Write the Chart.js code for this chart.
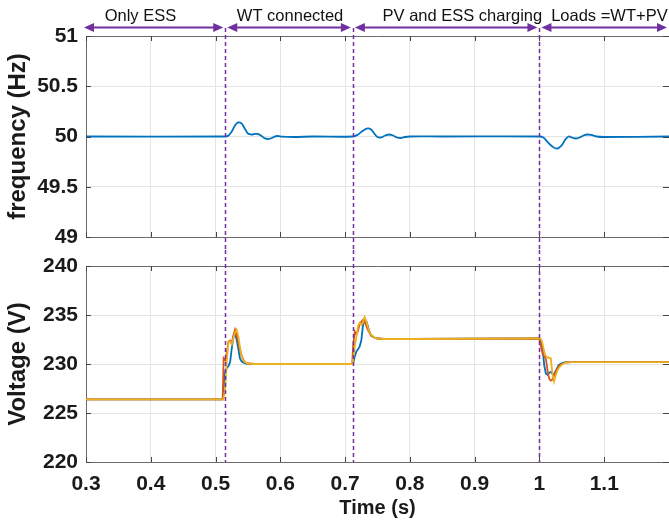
<!DOCTYPE html>
<html>
<head>
<meta charset="utf-8">
<script src="https://cdn.jsdelivr.net/npm/chart.js@4"></script>
<style>
  html, body { margin: 0; padding: 0; background: #fff; }
  #wrap { position: relative; width: 669px; height: 521px; overflow: hidden; }
  #freqChart { position: absolute; left: 0; top: 0; }
  #voltChart { position: absolute; left: 0; top: 250px; }
</style>
</head>
<body>
<div id="wrap">
  <canvas id="freqChart" width="669" height="250"></canvas>
  <canvas id="voltChart" width="669" height="271"></canvas>
</div>
<script>
// switching instants and stage names
const eventTimes = [0.515, 0.712, 1.0];
const stageLabels = ['Only ESS', 'WT connected', 'PV and ESS charging', 'Loads =WT+PV'];

// frequency (Hz)
const freqT = [0.3, 0.515, 0.52, 0.525, 0.53, 0.535, 0.54, 0.545, 0.55, 0.555, 0.56, 0.565, 0.57, 0.575, 0.58, 0.585, 0.59, 0.595, 0.6, 0.62, 0.65,
  0.712, 0.72, 0.728, 0.735, 0.74, 0.745, 0.75, 0.755, 0.762, 0.768, 0.774, 0.78, 0.786, 0.792, 0.8, 0.85,
  1.0, 1.006, 1.012, 1.02, 1.027, 1.034, 1.04, 1.045, 1.05, 1.056, 1.062, 1.068, 1.074, 1.08, 1.088, 1.1, 1.2];
const freqV = [50, 50, 50.01, 50.05, 50.11, 50.14, 50.13, 50.08, 50.03, 50.02, 50.025, 50.025, 50.01, 49.985, 49.975, 49.98, 49.995, 50.005, 50, 49.995, 50,
  50, 50.02, 50.06, 50.08, 50.07, 50.03, 49.995, 49.99, 50.01, 50.02, 50.01, 49.99, 49.985, 49.995, 50, 50,
  50, 49.99, 49.95, 49.9, 49.88, 49.91, 49.97, 50, 49.99, 49.98, 49.99, 50.01, 50.02, 50.015, 50, 49.995, 50];

// voltage (V), three phases on a shared time grid
const voltT = [0.3,
  0.511, 0.5125, 0.515, 0.5175, 0.52, 0.5225, 0.525, 0.5275, 0.53, 0.5325, 0.535, 0.5375, 0.54, 0.5425, 0.545, 0.55, 0.56,
  0.6,
  0.711, 0.7125, 0.715, 0.7175, 0.72, 0.7225, 0.725, 0.7275, 0.73, 0.7325, 0.735, 0.7375, 0.74, 0.745, 0.75, 0.76,
  0.8,
  0.999, 1.001, 1.003, 1.005, 1.0075, 1.01, 1.0125, 1.015, 1.0175, 1.02, 1.0225, 1.025, 1.0275, 1.03, 1.035, 1.04, 1.05,
  1.2];
const voltBlue = [226.4,
  226.4, 227.5, 229.3, 229.6, 229.8, 230.2, 231.6, 232.7, 233.2, 232.5, 231.6, 230.6, 230.3, 230.15, 230.1, 230.0, 230.0,
  230.0,
  230.0, 230.1, 230.8, 231.3, 231.5, 231.8, 232.4, 233.9, 234.5, 234.4, 233.9, 233.3, 232.9, 232.7, 232.6, 232.55,
  232.55,
  232.6, 232.5, 232.0, 231.4, 229.8, 229.0, 228.9, 229.1, 229.2, 229.0, 228.9, 229.3, 229.6, 229.9, 230.1, 230.2, 230.2,
  230.2];
const voltRed = [226.4,
  226.4, 230.6, 230.4, 231.2, 232.3, 232.4, 232.1, 232.9, 233.5, 233.0, 232.3, 231.5, 230.9, 230.5, 230.2, 230.05, 230.0,
  230.0,
  230.0, 232.0, 233.3, 233.0, 233.4, 234.1, 234.3, 234.5, 234.4, 233.9, 233.5, 233.2, 232.9, 232.7, 232.6, 232.55,
  232.55,
  232.6, 232.3, 231.6, 231.0, 230.8, 230.5, 229.3, 228.5, 228.3, 228.4, 228.8, 229.2, 229.5, 229.8, 230.0, 230.15, 230.2,
  230.2];
const voltOrange = [226.4,
  226.4, 226.5, 227.6, 230.5, 232.3, 232.3, 232.0, 232.6, 233.2, 233.5, 232.9, 231.8, 230.9, 230.4, 230.2, 230.05, 230.0,
  230.0,
  230.0, 230.5, 231.8, 232.8, 233.9, 234.2, 234.0, 234.2, 234.8, 234.4, 233.8, 233.3, 233.0, 232.7, 232.6, 232.55,
  232.55,
  232.6, 232.6, 232.5, 232.0, 231.2, 230.8, 230.7, 230.6, 230.6, 229.0, 228.2, 228.8, 229.3, 229.6, 229.95, 230.15, 230.2,
  230.2];

const purple = '#7030a0';
const frameColor = '#6a6a6a';
const gridColor = '#e4e4e4';
const tickFont = { family: 'Liberation Sans, Arial, sans-serif', size: 21, weight: 'bold' };
const titleFont = { family: 'Liberation Sans, Arial, sans-serif', size: 24, weight: 'bold' };

const toPts = (xs, ys) => xs.map((x, i) => ({ x: x, y: ys[i] }));

// box, inward ticks and dashed event lines (MATLAB look)
function drawFrame(chart, dashTop, dashBottom) {
  const ctx = chart.ctx;
  const a = chart.chartArea;
  const xs = chart.scales.x, ys = chart.scales.y;
  ctx.save();
  ctx.strokeStyle = frameColor;
  ctx.lineWidth = 1;
  ctx.beginPath();
  ctx.moveTo(a.left, a.top + 0.5); ctx.lineTo(a.right, a.top + 0.5);
  ctx.stroke();
  ctx.strokeStyle = '#444';
  ctx.beginPath();
  xs.ticks.forEach(t => {
    const px = Math.round(xs.getPixelForValue(t.value)) + 0.5;
    ctx.moveTo(px, a.top); ctx.lineTo(px, a.top + 5);
    ctx.moveTo(px, a.bottom); ctx.lineTo(px, a.bottom - 5);
  });
  ys.ticks.forEach(t => {
    const py = Math.round(ys.getPixelForValue(t.value)) + 0.5;
    ctx.moveTo(a.left, py); ctx.lineTo(a.left + 5, py);
    ctx.moveTo(a.right - 6, py); ctx.lineTo(a.right, py);
  });
  ctx.stroke();

  ctx.strokeStyle = purple;
  ctx.lineWidth = 1.5;
  ctx.setLineDash([4, 3]);
  eventTimes.forEach(t => {
    const px = Math.round(xs.getPixelForValue(t)) + 0.5;
    ctx.beginPath(); ctx.moveTo(px, dashTop); ctx.lineTo(px, dashBottom); ctx.stroke();
  });
  ctx.restore();
}

function drawArrow(ctx, xa, xb, y) {
  ctx.beginPath(); ctx.moveTo(xa + 6, y); ctx.lineTo(xb - 6, y); ctx.stroke();
  [[xa, 1], [xb, -1]].forEach(([x, d]) => {
    ctx.beginPath();
    ctx.moveTo(x, y);
    ctx.lineTo(x + d * 10, y - 4.5);
    ctx.lineTo(x + d * 10, y + 4.5);
    ctx.closePath();
    ctx.fill();
  });
}

const freqDecor = {
  id: 'freqDecor',
  afterDatasetsDraw(chart) {
    drawFrame(chart, 28, chart.height);
    const ctx = chart.ctx;
    const xs = chart.scales.x;
    const bounds = [xs.min].concat(eventTimes, [xs.max]);
    const labelAt = [0.384, 0.615, 0.881, 1.108];
    ctx.save();
    ctx.strokeStyle = purple; ctx.fillStyle = purple; ctx.lineWidth = 2;
    for (let i = 0; i < stageLabels.length; i++) {
      const xa = xs.getPixelForValue(bounds[i]) + (i === 0 ? -2 : 2);
      const xb = xs.getPixelForValue(bounds[i + 1]) - 2;
      drawArrow(ctx, xa, Math.min(xb, chart.width - 1), 27.5);
    }
    ctx.fillStyle = '#111';
    ctx.font = '16.5px "Liberation Sans", Arial, sans-serif';
    ctx.textAlign = 'center';
    ctx.textBaseline = 'middle';
    stageLabels.forEach((s, i) => ctx.fillText(s, xs.getPixelForValue(labelAt[i]), 16));
    ctx.restore();
  }
};

const voltDecor = {
  id: 'voltDecor',
  afterDatasetsDraw(chart) {
    drawFrame(chart, 0, chart.chartArea.bottom);
  }
};

function xAxis(showLabels, h) {
  return {
    type: 'linear', min: 0.3, max: 1.2,
    afterFit: s => { s.height = h; s.paddingLeft = 0; s.paddingRight = 0; },
    border: { display: true, color: frameColor, width: 1 },
    grid: { color: gridColor, drawTicks: false },
    ticks: {
      display: showLabels, stepSize: 0.1, autoSkip: false, maxRotation: 0,
      padding: 10, color: '#1a1a1a', font: tickFont,
      callback: v => { const r = Math.round(v * 10) / 10; return r >= 1.2 ? '' : String(r); }
    },
    title: {
      display: showLabels, text: 'Time (s)', color: '#1a1a1a',
      font: { family: 'Liberation Sans, Arial, sans-serif', size: 20, weight: 'bold' },
      padding: { top: 0, bottom: 1 }
    }
  };
}

function yAxis(min, max, step, label) {
  return {
    min: min, max: max,
    afterFit: s => { s.width = 86; s.paddingTop = 0; s.paddingBottom = 0; },
    border: { display: true, color: frameColor, width: 1 },
    grid: { color: gridColor, drawTicks: false },
    ticks: {
      stepSize: step, padding: 8, color: '#1a1a1a', font: tickFont,
      callback: v => String(Math.round(v * 10) / 10)
    },
    title: { display: true, text: label, color: '#1a1a1a', font: titleFont, padding: { top: 4, bottom: 0 } }
  };
}

const freqChart = new Chart(document.getElementById('freqChart'), {
  type: 'line',
  data: {
    datasets: [{
      data: toPts(freqT, freqV),
      borderColor: '#0072bd', borderWidth: 1.8, pointRadius: 0, tension: 0.4
    }]
  },
  options: {
    responsive: false, animation: false,
    layout: { padding: { top: 36, right: 0, left: 0, bottom: 0 } },
    plugins: { legend: { display: false }, tooltip: { enabled: false } },
    scales: { x: xAxis(false, 13), y: yAxis(49, 51, 0.5, 'frequency (Hz)') }
  },
  plugins: [freqDecor]
});

// orange drawn on top, blue at the bottom
const voltChart = new Chart(document.getElementById('voltChart'), {
  type: 'line',
  data: {
    datasets: [
      { data: toPts(voltT, voltBlue), borderColor: '#0072bd', borderWidth: 1.8, pointRadius: 0, tension: 0, order: 3 },
      { data: toPts(voltT, voltRed), borderColor: '#d95319', borderWidth: 1.8, pointRadius: 0, tension: 0, order: 2 },
      { data: toPts(voltT, voltOrange), borderColor: '#edb120', borderWidth: 1.8, pointRadius: 0, tension: 0, order: 1 }
    ]
  },
  options: {
    responsive: false, animation: false,
    layout: { padding: { top: 16, right: 0, left: 0, bottom: 0 } },
    plugins: { legend: { display: false }, tooltip: { enabled: false } },
    scales: { x: xAxis(true, 59), y: yAxis(220, 240, 5, 'Voltage (V)') }
  },
  plugins: [voltDecor]
});
</script>
</body>
</html>
